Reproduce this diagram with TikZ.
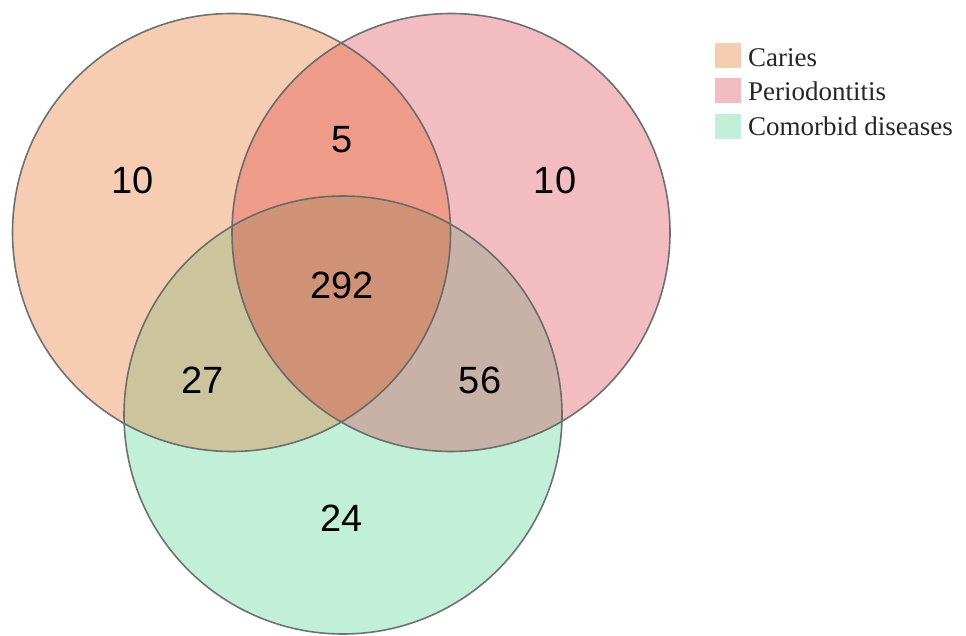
\documentclass[tikz,border=0pt]{standalone}
\usepackage{fontspec}
\setmainfont{Liberation Serif}
\newfontfamily\numfont{Liberation Sans}
\definecolor{cA}{HTML}{F6CDB3}
\definecolor{cB}{HTML}{F2BCC0}
\definecolor{cC}{HTML}{C1EFD8}
\definecolor{cAB}{HTML}{EE9B8A}
\definecolor{cAC}{HTML}{CBC49C}
\definecolor{cBC}{HTML}{C8B1A6}
\definecolor{cABC}{HTML}{D09277}
\definecolor{edge}{HTML}{5E6666}
\begin{document}
\begin{tikzpicture}[x=1pt,y=-1pt,
  num/.style={font=\numfont\fontsize{38}{40}\selectfont, text=black},
  leg/.style={font=\fontsize{27}{29}\selectfont, text=black!85, anchor=base west, inner sep=0pt},
  legbox/.style={minimum width=26pt, minimum height=25pt, inner sep=0pt, anchor=north west}]
\useasboundingbox (0,0) rectangle (966,636);
\def\A{(231.5,232.5) circle[radius=219pt]}
\def\B{(451,232.5) circle[radius=219pt]}
\def\C{(343,415) circle[radius=219pt]}
\fill[cA] \A;
\fill[cB] \B;
\fill[cC] \C;
\begin{scope}\clip \A; \fill[cAB] \B; \fill[cAC] \C; \end{scope}
\begin{scope}\clip \B; \fill[cBC] \C; \end{scope}
\begin{scope}\clip \A; \clip \B; \fill[cABC] \C; \end{scope}
\draw[edge, line width=1.6pt, draw opacity=0.9] \A \B \C;
\node[num] (nA) at (133,180) {10};
\node[num] (nAB) at (342,140) {5};
\node[num] (nB) at (555,180) {10};
\node[num] (nABC) at (342,285) {292};
\node[num] (nAC) at (203,380) {27};
\node[num] (nBC) at (480,380) {56};
\node[num] (nC) at (342,518) {24};
\node[legbox, fill=cA] (lA) at (715,43) {};
\node[legbox, fill=cB] (lB) at (715,78) {};
\node[legbox, fill=cC] (lC) at (715,114) {};
\node[leg] (tA) at (748,67) {Caries};
\node[leg] (tB) at (748,101) {Periodontitis};
\node[leg] (tC) at (748,136) {Comorbid diseases};
\end{tikzpicture}
\end{document}
